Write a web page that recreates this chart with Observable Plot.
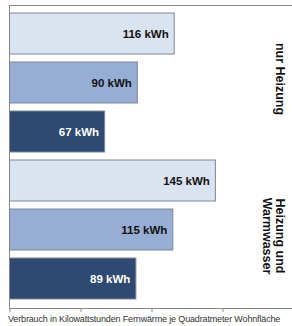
<!DOCTYPE html>
<html>
<head>
<meta charset="utf-8">
<script src="https://cdn.jsdelivr.net/npm/d3@7"></script>
<script src="https://cdn.jsdelivr.net/npm/@observablehq/plot@0.6"></script>
<style>
  html, body { margin: 0; padding: 0; background: #fff; }
  body { width: 292px; height: 326px; overflow: hidden; font-family: "Liberation Sans", Arial, sans-serif; }
  #caption { font-size: 9px; color: #333; margin: 0 0 0 8px; line-height: 12px; letter-spacing: -0.15px; white-space: nowrap; }
  svg { display: block; }
</style>
</head>
<body>
<div id="chart"></div>
<div id="caption"></div>
<script>
const categories = ["h1", "h2", "h3", "w1", "w2", "w3"];
const values = [116, 90, 67, 145, 115, 89];
const shades = ["light", "medium", "dark", "light", "medium", "dark"];
const groups = ["nur Heizung", "Heizung und\nWarmwasser"];
const groupCenters = ["h2", "w2"];
const xTicks = [0, 50, 100, 150, 200];
const captionText = "Verbrauch in Kilowattstunden Fernwärme je Quadratmeter Wohnfläche";

const fillOf = {light: "#dae3f0", medium: "#97aed4", dark: "#2e4a72"};
const labelOf = {light: "#111", medium: "#111", dark: "#fff"};

const data = categories.map((c, i) => ({cat: c, value: values[i], shade: shades[i]}));
const groupData = groups.map((g, i) => ({label: g, cat: groupCenters[i]}));

const groupText = (rows, dy) => Plot.text(rows, {
  y: "cat", text: "label",
  frameAnchor: "right", dx: -7, dy,
  rotate: 90, lineAnchor: "top", textAnchor: "middle",
  lineHeight: 1.05,
  fontWeight: "bold", fontSize: 12.5, fill: "#111"
});

const plot = Plot.plot({
  width: 292,
  height: 313,
  marginLeft: 9,
  marginRight: 0,
  marginTop: 5,
  marginBottom: 5,
  x: {domain: [0, 200], range: [9.5, 293.5], label: null},
  y: {domain: categories, range: [5, 308], padding: 0.16, label: null},
  style: {fontFamily: "Liberation Sans, Arial, sans-serif", background: "#fff"},
  marks: [
    Plot.frame({stroke: "#8a8a8a", strokeWidth: 1}),
    Plot.barX(data, {
      y: "cat", x: "value",
      fill: d => fillOf[d.shade],
      stroke: "#7d8797", strokeWidth: 1
    }),
    Plot.text(data, {
      y: "cat", x: "value",
      text: d => `${d.value} kWh`,
      textAnchor: "end", dx: -6,
      fontWeight: "bold", fontSize: 11.5,
      fill: d => labelOf[d.shade]
    }),
    groupText([groupData[0]], -4),
    groupText([groupData[1]], 6),
    Plot.axisX({ticks: xTicks, tickFormat: () => "", tickSize: 4, stroke: "#8a8a8a", anchor: "bottom", label: null}),
    Plot.axisY({ticks: [], label: null})
  ]
});
document.getElementById("chart").append(plot);
document.getElementById("caption").textContent = captionText;
</script>
</body>
</html>
